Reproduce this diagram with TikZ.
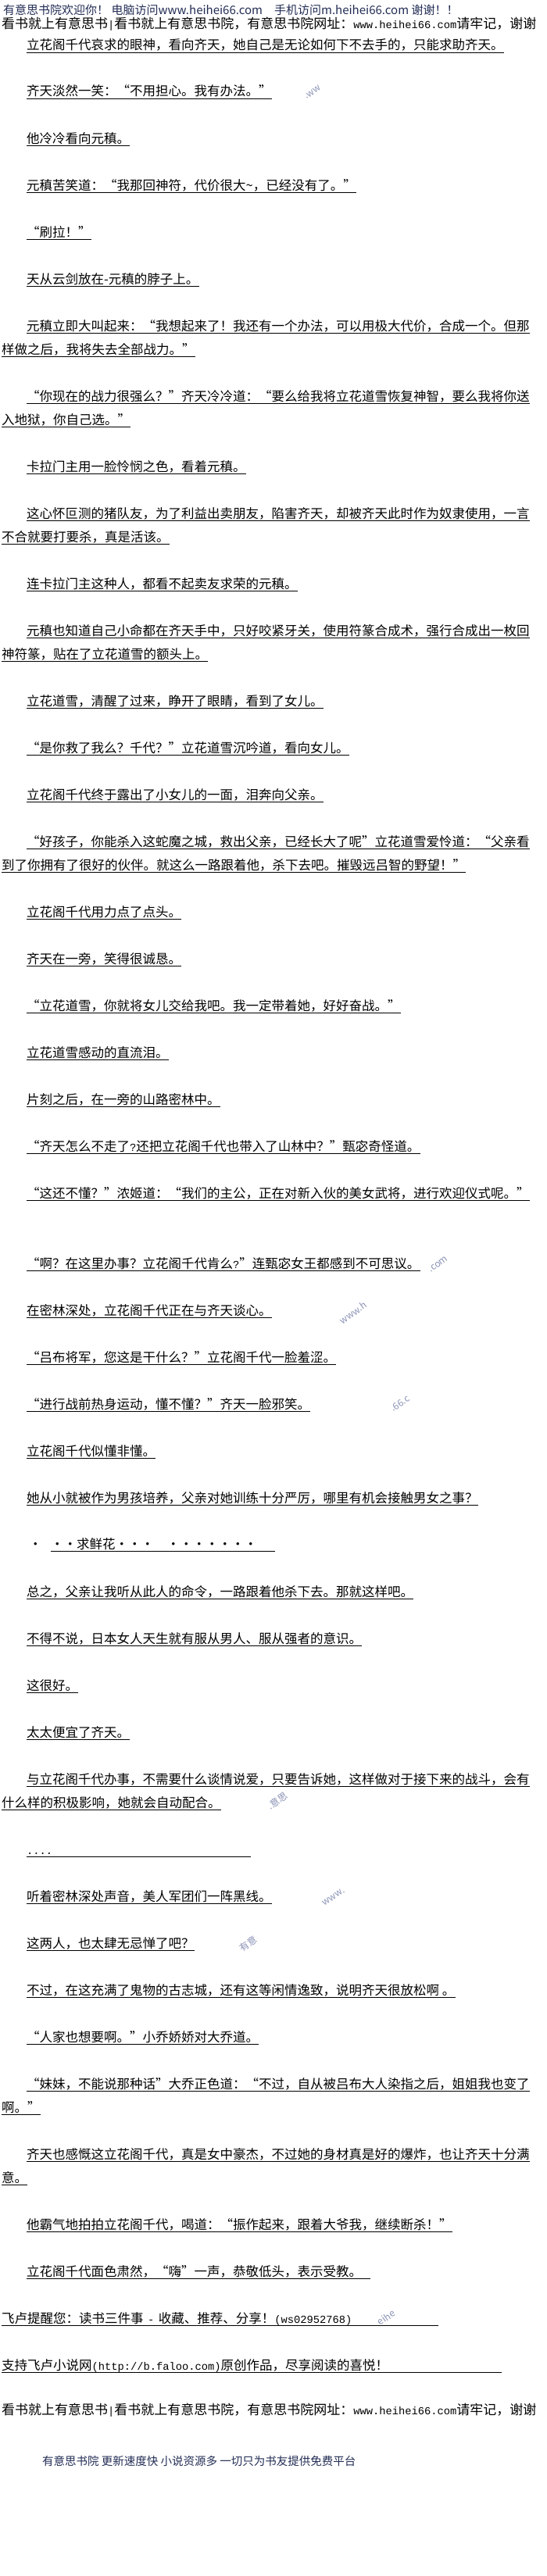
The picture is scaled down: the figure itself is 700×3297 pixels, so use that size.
\documentclass[tikz,border=0pt]{standalone}
\usepackage{fontspec}
\setmainfont{Noto Sans CJK SC}
\newfontfamily\halfmono{Liberation Mono}
\definecolor{sitenavy}{RGB}{35,45,85}
\definecolor{wmblue}{RGB}{110,120,165}
\newcommand\oq{\makebox[1em][r]{“}}
\newcommand\cq{\makebox[1em][l]{”}}
\newcommand\hw[1]{{\halfmono\fontsize{13.75}{16}\selectfont #1}}
\tikzset{
  para/.style={anchor=base west, inner sep=0pt, font=\fontsize{16.5}{20}\selectfont},
  head/.style={anchor=west, inner sep=0pt, font=\fontsize{17}{20}\selectfont},
  site/.style={anchor=west, inner sep=0pt, text=sitenavy, font=\fontsize{15}{18}\selectfont},
  wmark/.style={text=wmblue, font=\fontsize{12}{14}\selectfont, rotate=35, opacity=0.8},
  uline/.style={line width=0.8pt}
}
\begin{document}
\begin{tikzpicture}[x=1pt,y=-1pt]
        \fill[white] (0,0) rectangle (700,3297);
        \useasboundingbox (0,0) rectangle (700,3297);

        %page header
        \node[site] (h1) at (4,13) {有意思书院欢迎你！ 电脑访问www.heihei66.com\quad 手机访问m.heihei66.com 谢谢！！};
        \node[head] (h2) at (2,31) {看书就上有意思书\hw{|}看书就上有意思书院，有意思书院网址：\hw{www.heihei66.com}请牢记，谢谢};

        %chapter text
        \node[para] (l1) at (34,64) {立花阁千代哀求的眼神，看向齐天，她自己是无论如何下不去手的，只能求助齐天。};
        \node[para] (l2) at (34,123) {齐天淡然一笑：\oq 不用担心。我有办法。\cq};
        \node[para] (l3) at (34,183) {他冷冷看向元稹。};
        \node[para] (l4) at (34,243) {元稹苦笑道：\oq 我那回神符，代价很大\textasciitilde，已经没有了。\cq};
        \node[para] (l5) at (34,303) {\oq 刷拉！\cq};
        \node[para] (l6) at (34,363) {天从云剑放在-元稹的脖子上。};
        \node[para] (l7) at (34,423) {元稹立即大叫起来：\oq 我想起来了！我还有一个办法，可以用极大代价，合成一个。但那};
        \node[para] (l7b) at (2,453) {样做之后，我将失去全部战力。\cq};
        \node[para] (l8) at (34,513) {\oq 你现在的战力很强么？\cq 齐天冷冷道：\oq 要么给我将立花道雪恢复神智，要么我将你送};
        \node[para] (l8b) at (2,543) {入地狱，你自己选。\cq};
        \node[para] (l9) at (34,603) {卡拉门主用一脸怜悯之色，看着元稹。};
        \node[para] (l10) at (34,663) {这心怀叵测的猪队友，为了利益出卖朋友，陷害齐天，却被齐天此时作为奴隶使用，一言};
        \node[para] (l10b) at (2,693) {不合就要打要杀，真是活该。};
        \node[para] (l11) at (34,753) {连卡拉门主这种人，都看不起卖友求荣的元稹。};
        \node[para] (l12) at (34,813) {元稹也知道自己小命都在齐天手中，只好咬紧牙关，使用符篆合成术，强行合成出一枚回};
        \node[para] (l12b) at (2,843) {神符篆，贴在了立花道雪的额头上。};
        \node[para] (l13) at (34,903) {立花道雪，清醒了过来，睁开了眼睛，看到了女儿。};
        \node[para] (l14) at (34,963) {\oq 是你救了我么？千代？\cq 立花道雪沉吟道，看向女儿。};
        \node[para] (l15) at (34,1023) {立花阁千代终于露出了小女儿的一面，泪奔向父亲。};
        \node[para] (l16) at (34,1083) {\oq 好孩子，你能杀入这蛇魔之城，救出父亲，已经长大了呢\cq 立花道雪爱怜道：\oq 父亲看};
        \node[para] (l16b) at (2,1113) {到了你拥有了很好的伙伴。就这么一路跟着他，杀下去吧。摧毁远吕智的野望！\cq};
        \node[para] (l17) at (34,1173) {立花阁千代用力点了点头。};
        \node[para] (l18) at (34,1233) {齐天在一旁，笑得很诚恳。};
        \node[para] (l19) at (34,1293) {\oq 立花道雪，你就将女儿交给我吧。我一定带着她，好好奋战。\cq};
        \node[para] (l20) at (34,1353) {立花道雪感动的直流泪。};
        \node[para] (l21) at (34,1413) {片刻之后，在一旁的山路密林中。};
        \node[para] (l22) at (34,1473) {\oq 齐天怎么不走了\hw{?}还把立花阁千代也带入了山林中？\cq 甄宓奇怪道。};
        \node[para] (l23) at (34,1533) {\oq 这还不懂？\cq 浓姬道：\oq 我们的主公，正在对新入伙的美女武将，进行欢迎仪式呢。\cq};
        \node[para] (l24) at (34,1623) {\oq 啊？在这里办事？立花阁千代肯么\hw{?}\cq 连甄宓女王都感到不可思议。};
        \node[para] (l25) at (34,1683) {在密林深处，立花阁千代正在与齐天谈心。};
        \node[para] (l26) at (34,1743) {\oq 吕布将军，您这是干什么？\cq 立花阁千代一脸羞涩。};
        \node[para] (l27) at (34,1803) {\oq 进行战前热身运动，懂不懂？\cq 齐天一脸邪笑。};
        \node[para] (l28) at (34,1863) {立花阁千代似懂非懂。};
        \node[para] (l29) at (34,1923) {她从小就被作为男孩培养，父亲对她训练十分严厉，哪里有机会接触男女之事？};
        \node[para] (d1) at (37,1982) {・};
        \node[para, text width=287pt, align=left] (l30) at (65,1982) {・・求鲜花・・・　・・・・・・・};
        \node[para] (l31) at (34,2043) {总之，父亲让我听从此人的命令，一路跟着他杀下去。那就这样吧。};
        \node[para] (l32) at (34,2103) {不得不说，日本女人天生就有服从男人、服从强者的意识。};
        \node[para] (l33) at (34,2163) {这很好。};
        \node[para] (l34) at (34,2223) {太太便宜了齐天。};
        \node[para] (l35) at (34,2283) {与立花阁千代办事，不需要什么谈情说爱，只要告诉她，这样做对于接下来的战斗，会有};
        \node[para] (l35b) at (2,2313) {什么样的积极影响，她就会自动配合。};
        \node[para, text width=287pt, align=left] (l36) at (34,2373) {\hw{....}};
        \node[para] (l37) at (34,2433) {听着密林深处声音，美人军团们一阵黑线。};
        \node[para] (l38) at (34,2493) {这两人，也太肆无忌惮了吧？};
        \node[para] (l39) at (34,2553) {不过，在这充满了鬼物的古志城，还有这等闲情逸致，说明齐天很放松啊 。};
        \node[para] (l40) at (34,2613) {\oq 人家也想要啊。\cq 小乔娇娇对大乔道。};
        \node[para] (l41) at (34,2673) {\oq 妹妹，不能说那种话\cq 大乔正色道：\oq 不过，自从被吕布大人染指之后，姐姐我也变了};
        \node[para] (l41b) at (2,2703) {啊。\cq};
        \node[para] (l42) at (34,2763) {齐天也感慨这立花阁千代，真是女中豪杰，不过她的身材真是好的爆炸，也让齐天十分满};
        \node[para] (l42b) at (2,2793) {意。};
        \node[para] (l43) at (34,2853) {他霸气地拍拍立花阁千代，喝道：\oq 振作起来，跟着大爷我，继续断杀！\cq};
        \node[para, text width=440pt, align=left] (l44) at (34,2913) {立花阁千代面色肃然，\oq 嗨\cq 一声，恭敬低头，表示受教。};
        \node[para, text width=559pt, align=left] (l45) at (2,2973) {飞卢提醒您：读书三件事\hw{ - }收藏、推荐、分享！\hw{(ws02952768)}};
        \node[para, text width=640pt, align=left] (l46) at (2,3033) {支持飞卢小说网\hw{(http://b.faloo.com)}原创作品，尽享阅读的喜悦！};

        %underlines
        \foreach \n in {l1,l2,l3,l4,l5,l6,l7,l7b,l8,l8b,l9,l10,l10b,l11,l12,l12b,l13,l14,l15,l16,l16b,l17,l18,l19,l20,l21,l22,l23,l24,l25,l26,l27,l28,l29,l30,l31,l32,l33,l34,l35,l35b,l36,l37,l38,l39,l40,l41,l41b,l42,l42b,l43,l44,l45,l46}
            \draw[uline] ([yshift=-3pt]\n.base west) -- ([yshift=-3pt]\n.base east);

        %page footer
        \node[head] (h3) at (2,3085) {看书就上有意思书\hw{|}看书就上有意思书院，有意思书院网址：\hw{www.heihei66.com}请牢记，谢谢};
        \node[site, font=\fontsize{14.5}{17}\selectfont] (h4) at (54,3150) {有意思书院 更新速度快 小说资源多 一切只为书友提供免费平台};

        %watermark bits
        \node[wmark] (w1) at (400,118) {.ww};
        \node[wmark] (w2) at (561,1618) {.com};
        \node[wmark] (w3) at (452,1680) {www.h};
        \node[wmark] (w4) at (512,1796) {.66.c};
        \node[wmark] (w5) at (355,2305) {.意思};
        \node[wmark] (w6) at (427,2428) {www.};
        \node[wmark] (w7) at (318,2488) {有意};
        \node[wmark] (w8) at (494,2966) {eihe};
    \end{tikzpicture}
\end{document}
